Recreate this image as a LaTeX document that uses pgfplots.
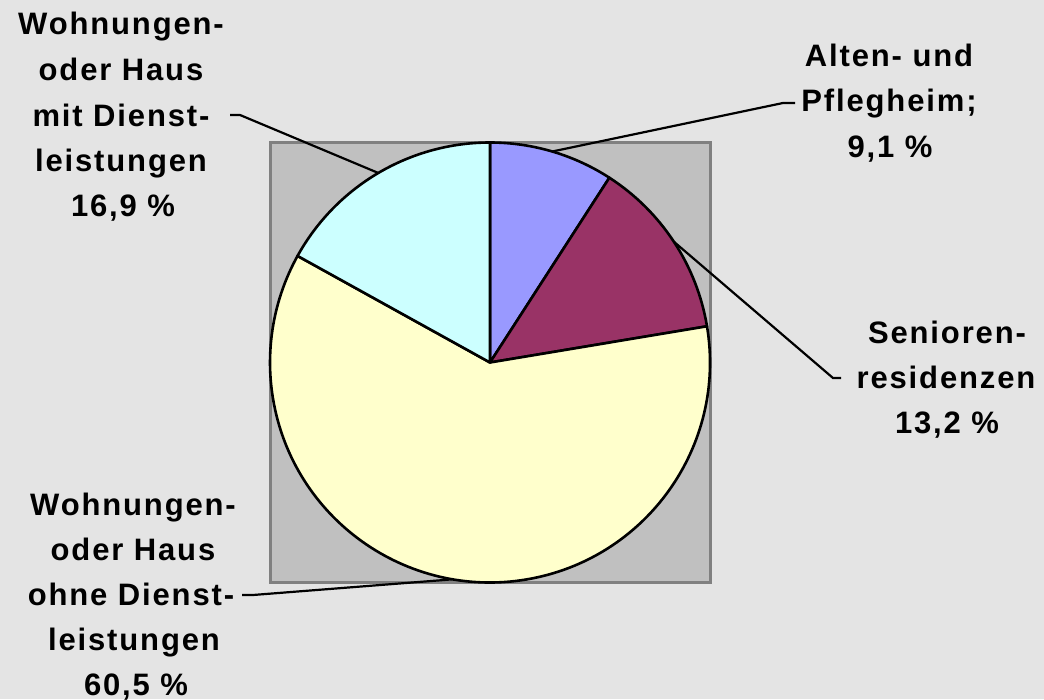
\documentclass[border=0pt]{standalone}
\usepackage{pgfplots}
\pgfplotsset{compat=1.18}
\usepackage{pgfplotstable}
\usepackage{fontspec}
\setmainfont{Liberation Sans}
\newfontfamily\lblfont{Liberation Sans}[LetterSpace=6]
\newcommand\lf{\lblfont\bfseries\fontsize{31pt}{36pt}\selectfont}
\definecolor{bggray}{HTML}{E4E4E4}
\definecolor{plotgray}{HTML}{C0C0C0}
\definecolor{framegray}{HTML}{808080}
\definecolor{cA}{HTML}{9999FF}
\definecolor{cB}{HTML}{993366}
\definecolor{cC}{HTML}{FFFFCC}
\definecolor{cD}{HTML}{CCFFFF}
\pgfplotstableread{
label value col
Alten 9.1 cA
Senioren 13.2 cB
ohne 60.5 cC
mit 16.9 cD
}\piedata
\begin{document}
\begin{tikzpicture}
\fill[bggray] (0pt,0pt) rectangle (1044pt,-699pt);
\begin{axis}[at={(490pt,-362.5pt)}, anchor=center, scale only axis,
  width=440pt, height=440pt, xmin=-1, xmax=1, ymin=-1, ymax=1,
  axis line style={draw=framegray, line width=3pt},
  axis background/.style={fill=plotgray},
  xtick=\empty, ytick=\empty, clip=false]
\gdef\pietotal{0}
\pgfplotsinvokeforeach{0,...,3}{
  \pgfplotstablegetelem{#1}{value}\of\piedata
  \pgfmathsetmacro\tmpsum{\pietotal+\pgfplotsretval}
  \xdef\pietotal{\tmpsum}
}
\gdef\piecum{0}
\pgfplotsinvokeforeach{0,...,3}{
  \pgfplotstablegetelem{#1}{value}\of\piedata
  \let\sliceval\pgfplotsretval
  \pgfplotstablegetelem{#1}{col}\of\piedata
  \let\slicecol\pgfplotsretval
  \pgfmathsetmacro\sa{90-360*(\piecum/\pietotal)}
  \pgfmathsetmacro\ea{90-360*((\piecum+\sliceval)/\pietotal)}
  \pgfmathsetmacro\ma{(\sa+\ea)/2}
  \edef\temp{\noexpand\filldraw[fill=\slicecol, draw=black, line width=2.6pt, line join=round]
    (axis cs:0,0) -- (axis cs:{cos(\sa)},{sin(\sa)}) arc[start angle=\sa, end angle=\ea, radius=1] -- cycle;
    \noexpand\coordinate (mid#1) at (axis cs:{cos(\ma)},{sin(\ma)});}
  \temp
  \pgfmathsetmacro\tmpsum{\piecum+\sliceval}
  \xdef\piecum{\tmpsum}
}
\end{axis}
% leader lines
\draw[line width=2.2pt] (mid0) -- (783pt,-103pt) -- (795pt,-103pt);
\draw[line width=2.2pt] (mid1) -- (833pt,-378pt) -- (841pt,-378pt);
\draw[line width=2.2pt] (mid2) -- (253pt,-595pt) -- (242pt,-595pt);
\draw[line width=2.2pt] (mid3) -- (240pt,-115pt) -- (230pt,-115pt);
% labels
\begin{scope}[every node/.style={anchor=base, font=\lf, inner sep=0pt}]
\node at (121pt,-35pt) {Wohnungen-};
\node at (121pt,-81pt) {oder Haus};
\node at (121pt,-127pt) {mit Dienst-};
\node at (121pt,-172pt) {leistungen};
\node at (123pt,-217pt) {16,9 \%};
\node at (889pt,-67pt) {Alten- und};
\node at (889pt,-112pt) {Pflegheim;};
\node at (890pt,-158pt) {9,1 \%};
\node at (947pt,-343pt) {Senioren-};
\node at (946pt,-388pt) {residenzen};
\node at (947pt,-433pt) {13,2 \%};
\node at (133pt,-515pt) {Wohnungen-};
\node at (133pt,-560pt) {oder Haus};
\node at (131pt,-605pt) {ohne Dienst-};
\node at (134pt,-650pt) {leistungen};
\node at (136pt,-695pt) {60,5 \%};
\end{scope}
\end{tikzpicture}
\end{document}
